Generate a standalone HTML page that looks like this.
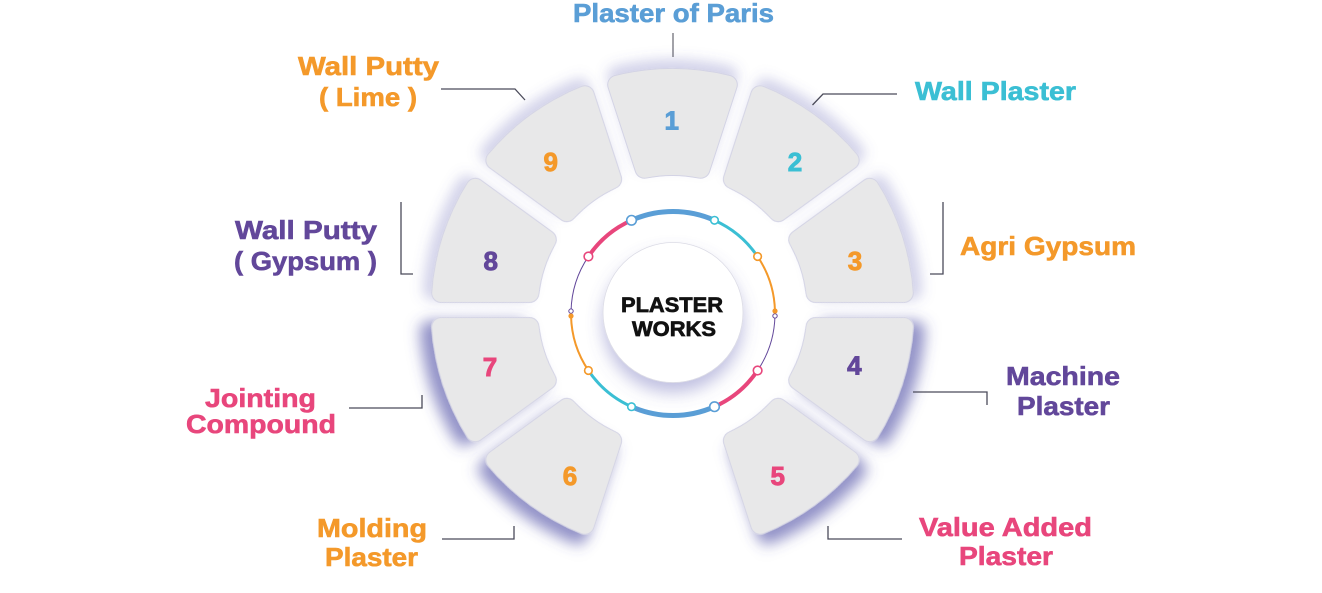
<!DOCTYPE html>
<html>
<head>
<meta charset="utf-8">
<style>
  html, body { margin: 0; padding: 0; background: #ffffff; }
  body { width: 1322px; height: 593px; overflow: hidden; }
  svg { display: block; }
  .lbl { font-family: "Liberation Sans", Arial, sans-serif; font-weight: 700; font-size: 26px; stroke-width: 0.6; paint-order: stroke; }
  .num { font-family: "Liberation Sans", Arial, sans-serif; font-weight: 700; font-size: 26px; text-anchor: middle; stroke-width: 0.9; }
  .ctr { font-family: "Liberation Sans", Arial, sans-serif; font-weight: 700; font-size: 21.5px; fill: #111111; stroke: #111111; stroke-width: 0.7; }
</style>
</head>
<body>
<svg width="1322" height="593" viewBox="0 0 1322 593" xmlns="http://www.w3.org/2000/svg">
  <defs>
    <path id="seg" d="M -28.02,-141.25 L -55.33,-225.30 A 232 232 0 0 1 55.33,-225.30 L 28.02,-141.25 A 144 144 0 0 0 -28.02,-141.25 Z"/>
    <filter id="gl" x="-60%" y="-60%" width="220%" height="220%">
      <feGaussianBlur in="SourceAlpha" stdDeviation="6"/>
      <feOffset dy="-9" result="b"/>
      <feFlood flood-color="#5a5ab0" flood-opacity="0.26"/>
      <feComposite in2="b" operator="in"/>
      <feMerge><feMergeNode/><feMergeNode in="SourceGraphic"/></feMerge>
    </filter>
    <filter id="gs" x="-60%" y="-60%" width="220%" height="220%">
      <feGaussianBlur in="SourceAlpha" stdDeviation="7"/>
      <feOffset dy="-12" result="b"/>
      <feFlood flood-color="#4a4aa3" flood-opacity="0.6"/>
      <feComposite in2="b" operator="in"/>
      <feMerge><feMergeNode/><feMergeNode in="SourceGraphic"/></feMerge>
    </filter>
    <filter id="cs" x="-50%" y="-50%" width="200%" height="200%">
      <feGaussianBlur in="SourceAlpha" stdDeviation="8"/>
      <feOffset dy="10" result="b"/>
      <feFlood flood-color="#6a6ab8" flood-opacity="0.42"/>
      <feComposite in2="b" operator="in"/>
      <feMerge><feMergeNode/><feMergeNode in="SourceGraphic"/></feMerge>
    </filter>
  </defs>

  <!-- Segments -->
  <g transform="translate(672.5,310)">
    <g transform="rotate(0)"><g filter="url(#gl)">
      <use href="#seg" fill="#d3d3e5" stroke="#d3d3e5" stroke-width="20" stroke-linejoin="round"/>
      <use href="#seg" fill="#e8e8e9" stroke="#e8e8e9" stroke-width="18" stroke-linejoin="round"/>
    </g></g>
    <g transform="rotate(36)"><g filter="url(#gl)">
      <use href="#seg" fill="#d3d3e5" stroke="#d3d3e5" stroke-width="20" stroke-linejoin="round"/>
      <use href="#seg" fill="#e8e8e9" stroke="#e8e8e9" stroke-width="18" stroke-linejoin="round"/>
    </g></g>
    <g transform="rotate(72)"><g filter="url(#gl)">
      <use href="#seg" fill="#d3d3e5" stroke="#d3d3e5" stroke-width="20" stroke-linejoin="round"/>
      <use href="#seg" fill="#e8e8e9" stroke="#e8e8e9" stroke-width="18" stroke-linejoin="round"/>
    </g></g>
    <g transform="rotate(108)"><g filter="url(#gs)">
      <use href="#seg" fill="#d3d3e5" stroke="#d3d3e5" stroke-width="20" stroke-linejoin="round"/>
      <use href="#seg" fill="#e8e8e9" stroke="#e8e8e9" stroke-width="18" stroke-linejoin="round"/>
    </g></g>
    <g transform="rotate(144)"><g filter="url(#gs)">
      <use href="#seg" fill="#d3d3e5" stroke="#d3d3e5" stroke-width="20" stroke-linejoin="round"/>
      <use href="#seg" fill="#e8e8e9" stroke="#e8e8e9" stroke-width="18" stroke-linejoin="round"/>
    </g></g>
    <g transform="rotate(216)"><g filter="url(#gs)">
      <use href="#seg" fill="#d3d3e5" stroke="#d3d3e5" stroke-width="20" stroke-linejoin="round"/>
      <use href="#seg" fill="#e8e8e9" stroke="#e8e8e9" stroke-width="18" stroke-linejoin="round"/>
    </g></g>
    <g transform="rotate(252)"><g filter="url(#gs)">
      <use href="#seg" fill="#d3d3e5" stroke="#d3d3e5" stroke-width="20" stroke-linejoin="round"/>
      <use href="#seg" fill="#e8e8e9" stroke="#e8e8e9" stroke-width="18" stroke-linejoin="round"/>
    </g></g>
    <g transform="rotate(288)"><g filter="url(#gl)">
      <use href="#seg" fill="#d3d3e5" stroke="#d3d3e5" stroke-width="20" stroke-linejoin="round"/>
      <use href="#seg" fill="#e8e8e9" stroke="#e8e8e9" stroke-width="18" stroke-linejoin="round"/>
    </g></g>
    <g transform="rotate(324)"><g filter="url(#gl)">
      <use href="#seg" fill="#d3d3e5" stroke="#d3d3e5" stroke-width="20" stroke-linejoin="round"/>
      <use href="#seg" fill="#e8e8e9" stroke="#e8e8e9" stroke-width="18" stroke-linejoin="round"/>
    </g></g>
  </g>

  <!-- Segment numbers -->
  <text class="num" x="671.7" y="129.5" fill="#5a9ed6" stroke="#5a9ed6">1</text>
  <text class="num" x="795" y="171" fill="#3bbfd4" stroke="#3bbfd4">2</text>
  <text class="num" x="855" y="270" fill="#f4992a" stroke="#f4992a">3</text>
  <text class="num" x="854.3" y="374.3" fill="#62479a" stroke="#62479a">4</text>
  <text class="num" x="777.7" y="485" fill="#e8467c" stroke="#e8467c">5</text>
  <text class="num" x="570" y="485" fill="#f4992a" stroke="#f4992a">6</text>
  <text class="num" x="490" y="376" fill="#e8467c" stroke="#e8467c">7</text>
  <text class="num" x="490.7" y="270" fill="#62479a" stroke="#62479a">8</text>
  <text class="num" x="550.7" y="171" fill="#f4992a" stroke="#f4992a">9</text>

  <!-- Centre circle -->
  <circle cx="673" cy="312.5" r="70" fill="#ffffff" stroke="#dcdce6" stroke-width="0.8" filter="url(#cs)"/>
  <text class="ctr" x="621" y="312" textLength="102" lengthAdjust="spacingAndGlyphs">PLASTER</text>
  <text class="ctr" x="632" y="336" textLength="84" lengthAdjust="spacingAndGlyphs">WORKS</text>

  <!-- Ring arcs -->
  <g fill="none" stroke-linecap="butt">
    <path d="M 631.51 220.32 A 102 102 0 0 1 714.49 220.32" stroke="#5a9ed6" stroke-width="5"/>
    <path d="M 714.49 220.32 A 102 102 0 0 1 757.56 256.46" stroke="#3bbfd4" stroke-width="3"/>
    <path d="M 757.56 256.46 A 102 102 0 0 1 774.97 311.2" stroke="#f4992a" stroke-width="2"/>
    <path d="M 774.97 315.8 A 102 102 0 0 1 757.56 370.54" stroke="#62479a" stroke-width="1"/>
    <path d="M 757.56 370.54 A 102 102 0 0 1 714.49 406.68" stroke="#e8467c" stroke-width="4"/>
    <path d="M 714.49 406.68 A 102 102 0 0 1 631.51 406.68" stroke="#5a9ed6" stroke-width="5"/>
    <path d="M 631.51 406.68 A 102 102 0 0 1 588.44 370.54" stroke="#3bbfd4" stroke-width="3"/>
    <path d="M 588.44 370.54 A 102 102 0 0 1 571.03 315.8" stroke="#f4992a" stroke-width="2"/>
    <path d="M 571.03 311.2 A 102 102 0 0 1 588.44 256.46" stroke="#62479a" stroke-width="1"/>
    <path d="M 588.44 256.46 A 102 102 0 0 1 631.51 220.32" stroke="#e8467c" stroke-width="4"/>
  </g>
  <!-- Ring dots -->
  <g fill="#ffffff" stroke-width="1.6">
    <circle cx="631.5" cy="220.3" r="4.8" stroke="#5a9ed6"/>
    <circle cx="714.5" cy="220.3" r="3.8" stroke="#3bbfd4"/>
    <circle cx="757.6" cy="256.5" r="3.8" stroke="#f4992a"/>
    <circle cx="757.6" cy="370.5" r="4.3" stroke="#e8467c"/>
    <circle cx="714.5" cy="406.7" r="4.8" stroke="#5a9ed6"/>
    <circle cx="631.5" cy="406.7" r="3.8" stroke="#3bbfd4"/>
    <circle cx="588.4" cy="370.5" r="3.8" stroke="#f4992a"/>
    <circle cx="588.4" cy="256.5" r="4.3" stroke="#e8467c"/>
    <circle cx="775" cy="315.9" r="2.2" stroke="#62479a" stroke-width="1"/>
    <circle cx="571" cy="311.1" r="2.2" stroke="#62479a" stroke-width="1"/>
  </g>
  <circle cx="775" cy="311" r="2.6" fill="#f4992a"/>
  <circle cx="571" cy="316" r="2.6" fill="#f4992a"/>

  <!-- Connectors -->
  <g fill="none" stroke="#4b4b5a" stroke-width="1.3">
    <line x1="673" y1="33" x2="673" y2="57" stroke="#6f6f7a"/>
    <polyline points="897,94 823,94 812.5,105"/>
    <polyline points="441,89 515,89 525,100"/>
    <polyline points="930,274 943,274 943,202"/>
    <polyline points="401,202 401,274 413,274"/>
    <polyline points="913,392 987,392 987,405"/>
    <polyline points="828,526 828,539 902,539"/>
    <polyline points="442,539 514,539 514,526"/>
    <polyline points="349,408 422,408 422,395"/>
  </g>

  <!-- Labels -->
  <text class="lbl" x="573" y="22" font-size="25" textLength="201" lengthAdjust="spacingAndGlyphs" fill="#5a9ed6" stroke="#5a9ed6">Plaster of Paris</text>
  <text class="lbl" x="915" y="100" textLength="161" lengthAdjust="spacingAndGlyphs" fill="#3bbfd4" stroke="#3bbfd4">Wall Plaster</text>
  <text class="lbl" x="960" y="255" textLength="176" lengthAdjust="spacingAndGlyphs" fill="#f4992a" stroke="#f4992a">Agri Gypsum</text>
  <text class="lbl" x="1006" y="385" textLength="114" lengthAdjust="spacingAndGlyphs" fill="#62479a" stroke="#62479a">Machine</text>
  <text class="lbl" x="1017" y="415" textLength="93" lengthAdjust="spacingAndGlyphs" fill="#62479a" stroke="#62479a">Plaster</text>
  <text class="lbl" x="919" y="536" textLength="173" lengthAdjust="spacingAndGlyphs" fill="#e8467c" stroke="#e8467c">Value Added</text>
  <text class="lbl" x="959" y="565" textLength="94" lengthAdjust="spacingAndGlyphs" fill="#e8467c" stroke="#e8467c">Plaster</text>
  <text class="lbl" x="317" y="537" textLength="110" lengthAdjust="spacingAndGlyphs" fill="#f4992a" stroke="#f4992a">Molding</text>
  <text class="lbl" x="325" y="566" textLength="93" lengthAdjust="spacingAndGlyphs" fill="#f4992a" stroke="#f4992a">Plaster</text>
  <text class="lbl" x="205" y="407" textLength="111" lengthAdjust="spacingAndGlyphs" fill="#e8467c" stroke="#e8467c">Jointing</text>
  <text class="lbl" x="186" y="433" textLength="150" lengthAdjust="spacingAndGlyphs" fill="#e8467c" stroke="#e8467c">Compound</text>
  <text class="lbl" x="235" y="239" textLength="142" lengthAdjust="spacingAndGlyphs" fill="#62479a" stroke="#62479a">Wall Putty</text>
  <text class="lbl" x="234" y="270" textLength="143" lengthAdjust="spacingAndGlyphs" fill="#62479a" stroke="#62479a">( Gypsum )</text>
  <text class="lbl" x="298" y="75" textLength="141" lengthAdjust="spacingAndGlyphs" fill="#f4992a" stroke="#f4992a">Wall Putty</text>
  <text class="lbl" x="319" y="106" textLength="98" lengthAdjust="spacingAndGlyphs" fill="#f4992a" stroke="#f4992a">( Lime )</text>
</svg>
</body>
</html>
